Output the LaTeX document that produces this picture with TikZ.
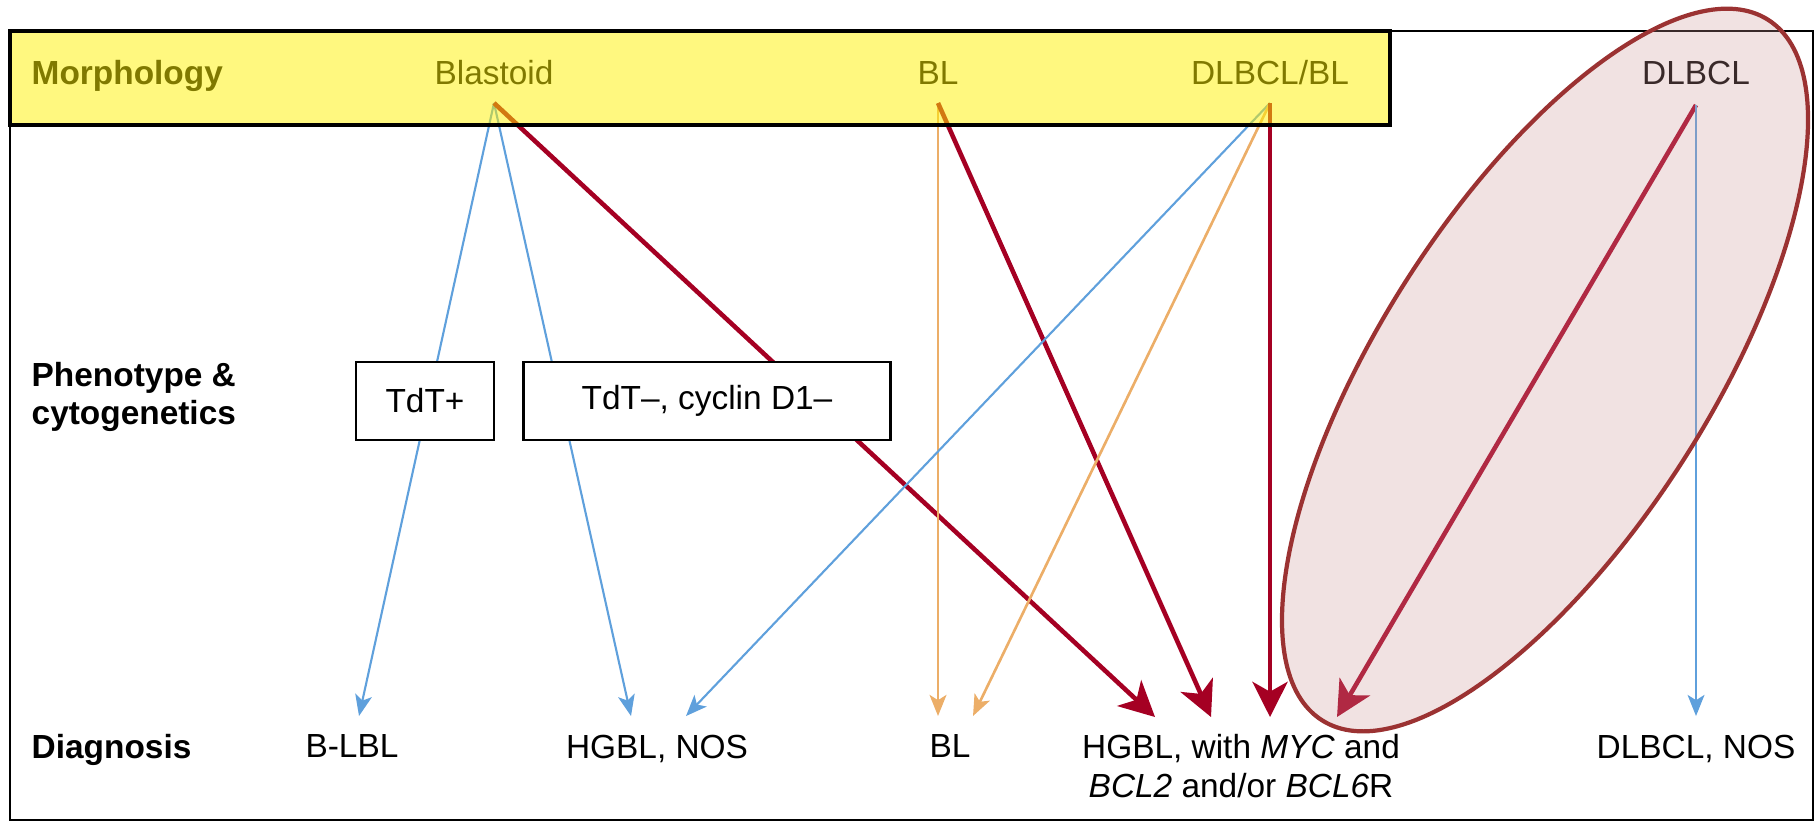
\documentclass[tikz,border=0pt]{standalone}
\usepackage{fontspec}
\setmainfont{Liberation Sans}
\usetikzlibrary{arrows.meta, calc, shapes.geometric}
\definecolor{lineblue}{RGB}{95,160,220}
\definecolor{lineorange}{RGB}{236,174,104}
\definecolor{linered}{RGB}{165,0,35}
\definecolor{ringred}{RGB}{155,50,50}
\definecolor{ringfill}{RGB}{205,150,150}
\tikzstyle{every node}=[font=\fontsize{9.5}{11}\selectfont, inner sep=0pt]
\tikzstyle{rowlabel}=[font=\fontsize{9.5}{11}\selectfont\bfseries]
\tikzstyle{blue arrow}=[lineblue, line width=0.6pt, -{Stealth[length=6pt, width=4.8pt, inset=1.5pt]}]
\tikzstyle{orange arrow}=[lineorange, line width=0.75pt, -{Stealth[length=6pt, width=4.8pt, inset=1.5pt]}]
\tikzstyle{red arrow}=[linered, line width=1.3pt, -{Stealth[length=10pt, width=10pt, inset=2.8pt]}]
\tikzstyle{tag}=[draw, fill=white, line width=0.8pt, minimum height=0.78cm]

\begin{document}
\begin{tikzpicture}[x=0.01cm, y=-0.01cm]
\useasboundingbox (0,0) rectangle (1819,823);
% Frame
    \draw[line width=0.6pt] (10,31) rectangle (1813,820);
% Row titles
    \node[rowlabel, anchor=base west] (morph) at (31,84) {Morphology};
    \node[rowlabel, anchor=west, align=left] (pheno) at (31,397) {Phenotype \&\\cytogenetics};
    \node[rowlabel, anchor=base west] (diag) at (31,758) {Diagnosis};
% Morphology
    \node[anchor=base] (blastoid) at (494,84) {Blastoid};
    \node[anchor=base] (bl-top) at (938,84) {BL};
    \node[anchor=base] (mixed) at (1270,84) {DLBCL/BL};
    \node[anchor=base] (dlbcl) at (1696,84) {DLBCL};
    \coordinate (blastoid-o) at ($(blastoid.base)+(0,19)$);
    \coordinate (bl-o) at ($(bl-top.base)+(0,19)$);
    \coordinate (mixed-o) at ($(mixed.base)+(0,19)$);
    \coordinate (dlbcl-o) at ($(dlbcl.base)+(0,21)$);
% Diagnosis
    \node[anchor=north] (blbl) at (352,734) {B-LBL};
    \node[anchor=north] (hgbl) at (657,734) {HGBL, NOS};
    \node[anchor=north] (bl) at (950,734) {BL};
    \node[anchor=north, align=center] (dhit) at (1241,734) {HGBL, with \textit{MYC} and\\\textit{BCL2} and/or \textit{BCL6}R};
    \node[anchor=north] (dlbclnos) at (1696,734) {DLBCL, NOS};
% Arrows
    \draw[blue arrow] (blastoid-o) -- ($(blbl.north)+(7,-18)$);
    \draw[blue arrow] (blastoid-o) -- ($(hgbl.north)+(-26,-18)$);
    \draw[red arrow] (blastoid-o) -- ($(dhit.north)+(-86,-17)$);
    \draw[orange arrow] (bl-o) -- ($(bl.north)+(-12,-18)$);
    \draw[red arrow] (bl-o) -- ($(dhit.north)+(-30,-17)$);
    \draw[blue arrow] (mixed-o) -- ($(hgbl.north)+(29,-18)$);
    \draw[orange arrow] (mixed-o) -- ($(bl.north)+(23,-18)$);
    \draw[red arrow] (mixed-o) -- ($(dhit.north)+(29,-17)$);
    \draw[red arrow] (dlbcl-o) -- ($(dhit.north)+(96,-17)$);
    \draw[blue arrow] (dlbcl-o) -- ($(dlbclnos.north)+(0,-18)$);
% Phenotype boxes
    \node[tag, minimum width=1.38cm] (tdtpos) at (425,401) {TdT+};
    \node[tag, minimum width=3.67cm] (tdtneg) at (707,401) {TdT--, cyclin D1--};
% Highlights
    \draw[line width=1.4pt, fill=yellow, fill opacity=0.5] (10,31) rectangle (1390,125);
    \node[ellipse, draw=ringred, line width=1.2pt, fill=ringfill, fill opacity=0.28,
        minimum width=8.3cm, minimum height=3.3cm, rotate=57.5] (focus) at (1545,370) {};
\end{tikzpicture}
\end{document}
